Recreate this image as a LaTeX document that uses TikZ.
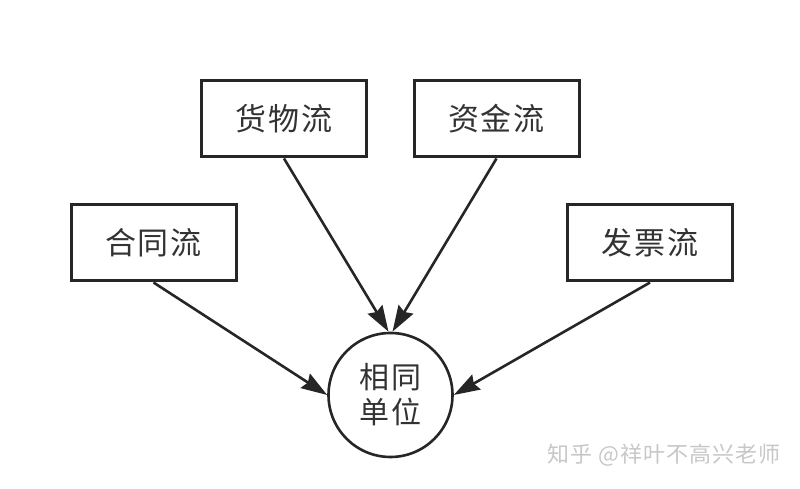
\documentclass[tikz,border=0pt]{standalone}
\usepackage{fontspec}
\newfontfamily\cjk{Noto Sans CJK SC}
\newfontfamily\cjkwide[LetterSpace=5]{Noto Sans CJK SC}
\usetikzlibrary{arrows.meta}
\begin{document}
\begin{tikzpicture}[x=1pt,y=1pt,
  flowbox/.style={draw=black!85,line width=3pt,minimum width=165pt,minimum height=76pt,inner sep=0pt,font=\cjkwide\fontsize{31}{33}\selectfont,text=black!80},
  unit/.style={draw=black!85,line width=2.6pt,circle,minimum size=124pt,inner sep=0pt,font=\cjkwide\fontsize{30}{35}\selectfont,text=black!80,align=center},
  flowarrow/.style={draw=black!85,line width=2.6pt,-{Stealth[length=26pt,width=17pt,inset=3pt]}}
]
\useasboundingbox (0,0) rectangle (800,489);
\node[flowbox] (hetong) at (153.5,246) {合同流};
\node[flowbox] (huowu) at (284,370) {货物流};
\node[flowbox] (zijin) at (496.5,370) {资金流};
\node[flowbox] (fapiao) at (650,246) {发票流};
\node[unit] (unit) at (390.5,94) {相同\\单位};
\draw[flowarrow] (hetong.south) -- (unit.west);
\draw[flowarrow] (huowu.south) -- ([xshift=-2pt]unit.north);
\draw[flowarrow] (zijin.south) -- ([xshift=2pt]unit.north);
\draw[flowarrow] (fapiao.south) -- (unit.east);
\node[anchor=east,inner sep=0pt,text=black!22,font=\cjkwide\fontsize{22}{24}\selectfont] (mark) at (781,34) {知乎 @祥叶不高兴老师};
\end{tikzpicture}
\end{document}
